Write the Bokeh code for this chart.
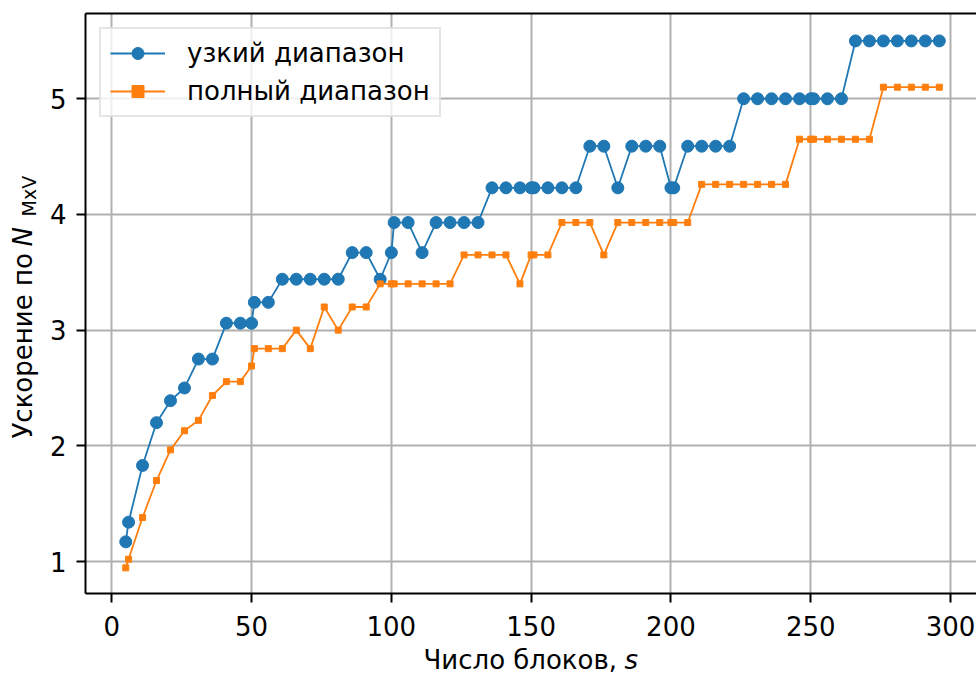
from bokeh.plotting import figure
from bokeh.models import (Range1d, FixedTicker, Label, Legend, LegendItem,
                          LinearAxis)
from bokeh.layouts import row, column
from bokeh.embed import file_html
from bokeh.resources import INLINE
import math

# ---------------- data ----------------
blocks = [5, 6, 11, 16, 21, 26, 31, 36, 41, 46, 50, 51, 56, 61, 66, 71, 76, 81,
          86, 91, 96, 100, 101, 106, 111, 116, 121, 126, 131, 136, 141, 146,
          150, 151, 156, 161, 166, 171, 176, 181, 186, 191, 196, 200, 201, 206,
          211, 216, 221, 226, 231, 236, 241, 246, 250, 251, 256, 261, 266, 271,
          276, 281, 286, 291, 296]

narrow = [1.17, 1.34, 1.83, 2.20, 2.39, 2.50, 2.75, 2.75, 3.06, 3.06, 3.06,
          3.24, 3.24, 3.44, 3.44, 3.44, 3.44, 3.44, 3.67, 3.67, 3.44, 3.67,
          3.93, 3.93, 3.67, 3.93, 3.93, 3.93, 3.93, 4.23, 4.23, 4.23, 4.23,
          4.23, 4.23, 4.23, 4.23, 4.59, 4.59, 4.23, 4.59, 4.59, 4.59, 4.23,
          4.23, 4.59, 4.59, 4.59, 4.59, 5.00, 5.00, 5.00, 5.00, 5.00, 5.00,
          5.00, 5.00, 5.00, 5.50, 5.50, 5.50, 5.50, 5.50, 5.50, 5.50]

full = [0.945, 1.02, 1.38, 1.70, 1.965, 2.13, 2.22, 2.435, 2.555, 2.555, 2.69,
        2.84, 2.84, 2.84, 3.00, 2.84, 3.20, 3.00, 3.20, 3.20, 3.40, 3.40,
        3.40, 3.40, 3.40, 3.40, 3.40, 3.65, 3.65, 3.65, 3.65, 3.40, 3.65,
        3.65, 3.65, 3.93, 3.93, 3.93, 3.65, 3.93, 3.93, 3.93, 3.93, 3.93,
        3.93, 3.93, 4.26, 4.26, 4.26, 4.26, 4.26, 4.26, 4.26, 4.65, 4.65,
        4.65, 4.65, 4.65, 4.65, 4.65, 5.10, 5.10, 5.10, 5.10, 5.10]

x_ticks = [0, 50, 100, 150, 200, 250, 300]
y_ticks = [1, 2, 3, 4, 5]
series_names = ["узкий диапазон", "полный диапазон"]
x_label_text = "Число блоков,"
x_label_var = "s"
y_label_text = "Ускорение по"
y_label_var = "N"
y_label_sub = "MxV"

FONT = "DejaVu Sans"
FS = "26px"
XTS = 26         # x title font size, px
YTS = 26         # y title font size, px
SUB = 19         # subscript font size, px
BLUE = "#1f77b4"
ORANGE = "#ff7f0e"

W, H = 976, 673
YLAB_W = 45      # width of the strip holding the y title
MAIN_H = 647     # height of the main plot (frame bottom at 593)
XLAB_H = H - MAIN_H
FRAME_LEFT = 85

p = figure(width=W - YLAB_W, height=MAIN_H, output_backend="svg",
           toolbar_location=None,
           x_range=Range1d(-9.4, 309.3), y_range=Range1d(0.7234, 5.737),
           min_border_left=FRAME_LEFT - YLAB_W, min_border_right=0,
           min_border_top=13, min_border_bottom=MAIN_H - 593)
p.outline_line_color = None
p.background_fill_color = "white"
p.border_fill_color = "white"

# axes
for ax, ticks in ((p.xaxis[0], x_ticks), (p.yaxis[0], y_ticks)):
    ax.ticker = FixedTicker(ticks=ticks)
    ax.axis_line_color = "black"
    ax.axis_line_width = 2
    ax.major_tick_line_color = "black"
    ax.major_tick_line_width = 2
    ax.major_tick_in = 0
    ax.major_tick_out = 9
    ax.minor_tick_line_color = None
    ax.major_label_text_font = FONT
    ax.major_label_text_font_size = FS
    ax.major_label_text_color = "black"
p.xaxis[0].major_label_standoff = 13
p.yaxis[0].major_label_standoff = 10

top = LinearAxis(ticker=FixedTicker(ticks=[]), axis_line_color="black",
                 axis_line_width=2, major_tick_line_color=None,
                 minor_tick_line_color=None)
p.add_layout(top, "above")

# grid
p.xgrid.ticker = FixedTicker(ticks=x_ticks)
p.ygrid.ticker = FixedTicker(ticks=y_ticks)
for g in (p.xgrid[0], p.ygrid[0]):
    g.grid_line_color = "#b0b0b0"
    g.grid_line_width = 2

# data
l1 = p.line(blocks, narrow, line_color=BLUE, line_width=1.8)
s1 = p.scatter(blocks, narrow, marker="circle", size=12, fill_color=BLUE,
               line_color=BLUE)
l2 = p.line(blocks, full, line_color=ORANGE, line_width=1.8)
s2 = p.scatter(blocks, full, marker="square", size=6, fill_color=ORANGE,
               line_color=ORANGE)

legend = Legend(items=[LegendItem(label=series_names[0], renderers=[l1, s1]),
                       LegendItem(label=series_names[1], renderers=[l2, s2])],
                location="top_left", margin=14, padding=9, spacing=8,
                glyph_width=55, glyph_height=30, label_height=30,
                label_standoff=22, label_text_font=FONT,
                label_text_font_size=FS, label_text_color="black",
                border_line_color="#cccccc", border_line_width=2,
                background_fill_color="white", background_fill_alpha=0.8)
p.add_layout(legend)


def blank(w, h):
    f = figure(width=w, height=h, output_backend="svg", toolbar_location=None,
               x_range=Range1d(0, 1), y_range=Range1d(0, 1),
               x_axis_type=None, y_axis_type=None, min_border=0)
    f.outline_line_color = None
    f.grid.visible = False
    f.background_fill_color = "white"
    f.border_fill_color = "white"
    return f


def lab(text, sx, sy, size, style="normal", angle=0.0):
    # (sx, sy): middle-left anchor inside the strip, sy upward from bottom
    return Label(x=sx, y=sy, x_units="screen", y_units="screen", text=text,
                 text_font=FONT, text_font_size=f"{size}px",
                 text_font_style=style, text_color="black",
                 text_align="left", text_baseline="middle", angle=angle)


def mid(baseline, size):
    # move from the alphabetic baseline to the middle of the text box
    return baseline - 0.346 * size


# y title strip (page x 0..45, full height); text runs bottom -> top
ystrip = blank(YLAB_W, H)
ystrip.add_layout(lab(y_label_text, mid(31, YTS), H - 438, YTS,
                      angle=math.pi / 2))
ystrip.add_layout(lab(y_label_var, mid(31, YTS), H - 246, YTS,
                      style="italic", angle=math.pi / 2))
ystrip.add_layout(lab(y_label_sub, mid(35, SUB), H - 216, SUB,
                      angle=math.pi / 2))

# x title strip (page y MAIN_H..673); its frame is aligned with the main frame
xstrip = blank(W - YLAB_W, XLAB_H)
x_mid_from_bottom = H - mid(668, XTS)
xstrip.add_layout(lab(x_label_text, 423 - FRAME_LEFT, x_mid_from_bottom, XTS))
xstrip.add_layout(lab(x_label_var, 624 - FRAME_LEFT, x_mid_from_bottom, XTS,
                      style="italic"))

layout = row(ystrip, column(p, xstrip, spacing=0), spacing=0)

open("out.html", "w").write(file_html(layout, INLINE))
